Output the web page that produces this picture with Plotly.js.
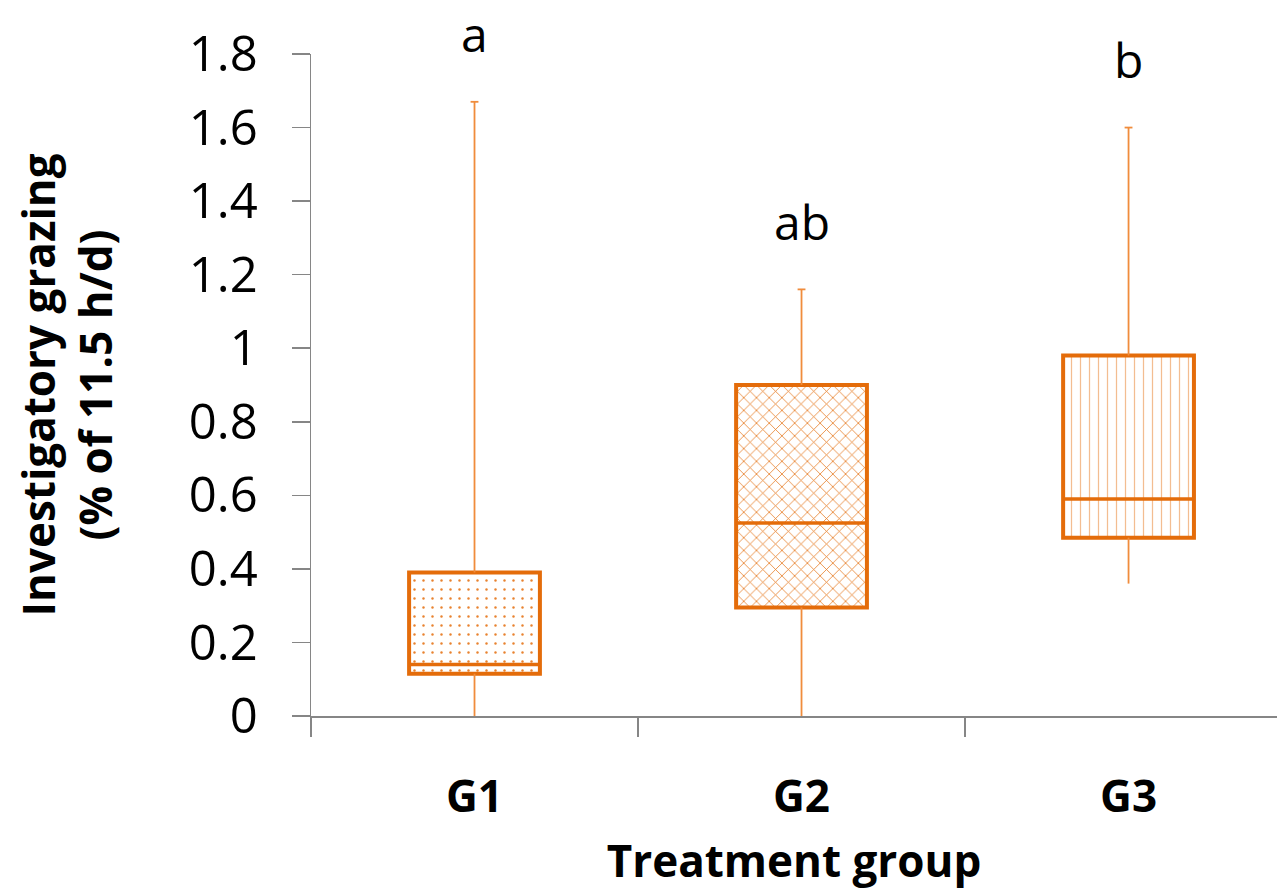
<!DOCTYPE html>
<html>
<head>
<meta charset="utf-8">
<script src="https://cdn.plot.ly/plotly-3.0.1.min.js"></script>
<style>
  html, body { margin: 0; padding: 0; background: #ffffff; }
  #chart { width: 1278px; height: 890px; }
</style>
</head>
<body>
<div id="chart"></div>
<script>
// Investigatory grazing per treatment group (box summaries)
const groups = ['G1', 'G2', 'G3'];
const whiskerLow = [0.0, 0.0, 0.36];
const quartile1 = [0.115, 0.295, 0.485];
const medians = [0.14, 0.525, 0.59];
const quartile3 = [0.39, 0.90, 0.98];
const whiskerHigh = [1.67, 1.16, 1.60];
const letters = ['a', 'ab', 'b'];
const yTicks = [0, 0.2, 0.4, 0.6, 0.8, 1, 1.2, 1.4, 1.6, 1.8];

const boxColor = '#E46C0A';
const whiskerColor = '#F08C3C';
const axisColor = '#868686';
const patterns = ['.', 'x', '|'];
const yMax = 1.8;

const xs = groups.map((_, i) => i);
const halfBox = 0.2;
const halfCap = 0.012;

// whisker stems and caps
const wx = [], wy = [];
xs.forEach((x, i) => {
  wx.push(x, x, null, x, x, null);
  wy.push(quartile3[i], whiskerHigh[i], null, quartile1[i], whiskerLow[i], null);
  wx.push(x - halfCap, x + halfCap, null);
  wy.push(whiskerHigh[i], whiskerHigh[i], null);
});

const traces = [{
  type: 'scatter', mode: 'lines', x: wx, y: wy,
  line: { color: whiskerColor, width: 1.8 },
  hoverinfo: 'skip', showlegend: false
}];

// interquartile boxes with hatch fills
const patternSize = [9, 9, 9];
const patternSolidity = [0.06, 0.16, 0.14];
const patternOpacity = [0.85, 0.95, 0.45];
xs.forEach((x, i) => {
  traces.push({
    type: 'bar', x: [x], y: [quartile3[i] - quartile1[i]], base: [quartile1[i]],
    width: 2 * halfBox,
    marker: {
      color: '#ffffff',
      line: { color: boxColor, width: 4 },
      pattern: {
        shape: patterns[i],
        fgcolor: boxColor,
        bgcolor: '#ffffff',
        size: patternSize[i],
        solidity: patternSolidity[i],
        fgopacity: patternOpacity[i]
      }
    },
    hoverinfo: 'skip', showlegend: false
  });
});

// median lines
const mx = [], my = [];
xs.forEach((x, i) => {
  mx.push(x - halfBox, x + halfBox, null);
  my.push(medians[i], medians[i], null);
});
traces.push({
  type: 'scatter', mode: 'lines', x: mx, y: my,
  line: { color: boxColor, width: 3.5 },
  hoverinfo: 'skip', showlegend: false
});

// significance letters placed just above each upper whisker
const annotations = xs.map((x, i) => ({
  x: x, y: (whiskerHigh[i] + 0.185) / yMax, xref: 'x', yref: 'paper',
  text: letters[i], showarrow: false, yanchor: 'middle',
  font: { family: 'Open Sans, sans-serif', size: 48, color: '#000000' }
}));

const layout = {
  width: 1278, height: 890,
  margin: { l: 311, r: 1, t: 54, b: 174 },
  paper_bgcolor: '#ffffff', plot_bgcolor: '#ffffff',
  bargap: 0, barmode: 'overlay',
  showlegend: false,
  xaxis: {
    range: [-0.5, 2.454],
    tickmode: 'array', tickvals: xs, ticktext: groups,
    ticks: '', ticklabelstandoff: 42,
    tickfont: { family: 'Open Sans, sans-serif', size: 44, color: '#000000', weight: 'bold' },
    minor: { tickmode: 'linear', tick0: -0.5, dtick: 1, ticks: 'outside', ticklen: 19, tickwidth: 1.5, tickcolor: axisColor, showgrid: false },
    showline: true, linecolor: axisColor, linewidth: 1.5,
    showgrid: false, zeroline: false, fixedrange: true,
    title: { text: 'Treatment group', standoff: 22,
      font: { family: 'Open Sans, sans-serif', size: 44, color: '#000000', weight: 'bold' } }
  },
  yaxis: {
    range: [0, yMax],
    tickmode: 'array', tickvals: yTicks,
    ticks: 'outside', ticklen: 18, tickwidth: 1.5, tickcolor: axisColor,
    ticklabelstandoff: 24,
    tickfont: { family: 'Open Sans, sans-serif', size: 49, color: '#000000' },
    showline: true, linecolor: axisColor, linewidth: 1.5,
    showgrid: false, zeroline: false, fixedrange: true,
    title: { text: 'Investigatory grazing<br>(% of 11.5 h/d)', standoff: 62,
      font: { family: 'Open Sans, sans-serif', size: 44, color: '#000000', weight: 'bold' } }
  },
  annotations: annotations
};

Plotly.newPlot('chart', traces, layout, { displayModeBar: false, staticPlot: true });
</script>
</body>
</html>
